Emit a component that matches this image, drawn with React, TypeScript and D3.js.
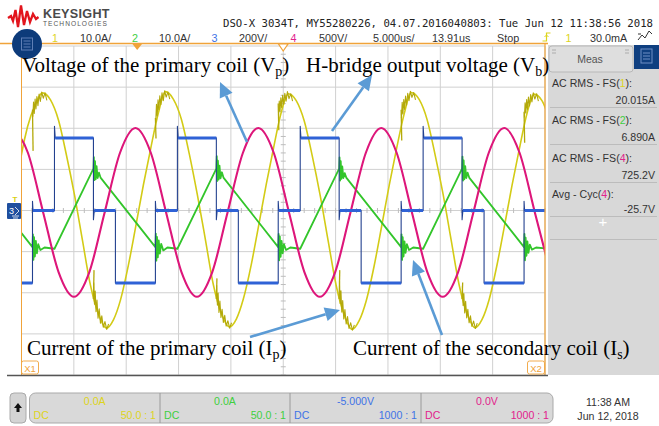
import React from 'react';
import * as d3 from 'd3';

// ---------- data ----------
// time in microseconds (5 us/div, 10 div)
const timeRange: [number, number] = [0, 50];

// Channel 1: current of the primary coil Ip (A), 10 A/div
const ipPoints: [number, number][] = [
  [-0.86, -1.1], [-0.10, 12.3], [0.57, 20.3], [1.34, 25.9], [2.00, 28.6],
  [2.77, 26.9], [3.53, 22.0], [4.29, 13.5], [5.06, 3.8], [5.82, -7.2], [6.58, -18.1], [7.35, -25.2], [8.11, -28.6],
  [8.78, -26.6], [9.45, -21.8], [10.21, -13.3], [10.88, -4.3], [11.64, 6.2], [12.31, 14.7], [13.07, 23.7], [13.74, 28.9],
  [14.50, 27.1], [15.27, 22.2], [16.03, 13.7], [16.79, 3.9], [17.56, -7.0], [18.32, -18.0], [19.08, -25.0], [19.85, -28.3],
  [20.52, -26.4], [21.18, -21.6], [21.95, -13.1], [22.61, -4.2], [23.38, 6.4], [24.05, 14.9], [24.81, 23.9], [25.48, 28.4],
  [26.24, 26.7], [27.00, 21.8], [27.77, 13.3], [28.53, 3.6], [29.29, -7.4], [30.06, -18.3], [30.82, -25.4], [31.58, -28.9],
  [32.25, -26.8], [32.92, -22.0], [33.68, -13.5], [34.35, -4.5], [35.11, 6.0], [35.78, 14.5], [36.55, 23.5], [37.21, 28.7],
  [37.98, 27.0], [38.74, 22.1], [39.50, 13.6], [40.27, 3.9], [41.03, -7.1], [41.79, -18.0], [42.56, -25.1], [43.32, -28.5],
  [43.99, -26.5], [44.66, -21.7], [45.42, -13.2], [46.09, -4.3], [46.85, 6.1], [47.52, 14.6], [48.28, 23.6], [48.95, 28.3],
  [49.71, 26.7], [50.48, 21.9],
];
// switching spikes on Ip: [time, from, to]
const ipSpikes: [number, number, number][] = [
  [1.05, 24.5, 14.5], [12.79, 22.5, 17.5], [24.52, 26.0, 19.5], [36.26, 24.5, 17.0], [48.0, 24.0, 16.5],
  [6.87, -21.5, -14.5], [18.61, -21.5, -16.5], [30.34, -21.5, -14.5], [42.08, -21.5, -17.5],
];
// ringing on Ip after each switching edge
const ipRinging: [number, number][][] = [
  [[1.08, 22.8], [1.15, 26.4], [1.22, 23.6], [1.30, 27.1], [1.38, 24.7], [1.47, 27.7], [1.57, 25.5], [1.68, 28.3], [1.80, 26.5], [1.93, 28.8], [2.08, 27.3], [2.25, 28.6], [2.42, 26.8]],
  [[12.82, 21.5], [12.89, 25.8], [12.96, 23.0], [13.04, 26.9], [13.12, 24.5], [13.21, 27.9], [13.31, 25.7], [13.42, 28.6], [13.54, 26.7], [13.67, 29.1], [13.82, 27.6], [13.99, 28.8], [14.16, 27.1]],
  [[24.55, 23.2], [24.62, 26.6], [24.69, 24.0], [24.77, 27.4], [24.85, 25.0], [24.94, 28.0], [25.04, 25.8], [25.15, 28.5], [25.27, 26.6], [25.40, 28.9], [25.55, 27.2], [25.72, 28.4], [25.89, 26.6]],
  [[36.29, 22.5], [36.36, 26.3], [36.43, 23.5], [36.51, 27.0], [36.59, 24.6], [36.68, 27.8], [36.78, 25.6], [36.89, 28.5], [37.01, 26.7], [37.14, 29.0], [37.29, 27.5], [37.46, 28.7], [37.63, 26.9]],
  [[48.03, 22.6], [48.10, 26.2], [48.17, 23.7], [48.25, 27.0], [48.33, 24.6], [48.42, 27.6], [48.52, 25.4], [48.63, 28.2], [48.75, 26.4], [48.88, 28.6], [49.03, 27.1], [49.20, 28.4], [49.37, 26.6]],
  [[6.90, -17.5], [6.97, -22.8], [7.04, -19.6], [7.12, -24.6], [7.21, -21.8], [7.31, -26.2], [7.42, -23.9], [7.54, -27.4], [7.67, -25.6], [7.81, -28.4], [7.97, -27.0], [8.14, -28.9], [8.32, -27.6]],
  [[18.64, -18.2], [18.71, -23.0], [18.78, -20.1], [18.86, -24.8], [18.95, -22.0], [19.05, -26.0], [19.16, -24.0], [19.28, -27.2], [19.41, -25.5], [19.55, -28.1], [19.71, -26.8], [19.88, -28.6], [20.06, -27.3]],
  [[30.37, -17.2], [30.44, -22.6], [30.51, -19.5], [30.59, -24.7], [30.68, -21.9], [30.78, -26.4], [30.89, -24.1], [31.01, -27.6], [31.14, -25.8], [31.28, -28.7], [31.44, -27.3], [31.61, -29.1], [31.79, -27.8]],
  [[42.11, -18.4], [42.18, -23.1], [42.25, -20.2], [42.33, -24.9], [42.42, -22.1], [42.52, -26.1], [42.63, -24.0], [42.75, -27.3], [42.88, -25.6], [43.02, -28.2], [43.18, -26.9], [43.35, -28.7], [43.53, -27.4]],
];

// Channel 2: current of the secondary coil Is (A), 10 A/div
const isPoints: [number, number][] = [
  [0, -5.5], [1.05, -8.9], [1.09, -5.8], [1.14, -12.0], [1.20, -6.5], [1.28, -11.2], [1.37, -7.4], [1.47, -10.4], [1.60, -8.2], [1.80, -9.6], [2.20, -9.0], [3.15, -9.3],
  [6.87, 10.2], [6.91, 13.0], [6.96, 7.4], [7.02, 12.0], [7.09, 7.6], [7.17, 10.8], [7.27, 7.9], [7.40, 9.2], [7.55, 8.0],
  [12.79, -8.9], [12.83, -5.6], [12.88, -12.2], [12.94, -6.4], [13.02, -11.4], [13.11, -7.3], [13.21, -10.5], [13.34, -8.1], [13.54, -9.7], [13.94, -9.0], [14.89, -9.3],
  [18.61, 10.2], [18.65, 13.2], [18.70, 7.2], [18.76, 12.1], [18.83, 7.5], [18.91, 10.9], [19.01, 7.8], [19.14, 9.3], [19.29, 8.0],
  [24.52, -8.9], [24.56, -5.7], [24.61, -12.1], [24.67, -6.3], [24.75, -11.3], [24.84, -7.4], [24.94, -10.4], [25.07, -8.2], [25.27, -9.6], [25.67, -9.0], [26.62, -9.3],
  [30.34, 10.2], [30.38, 12.9], [30.43, 7.3], [30.49, 12.0], [30.56, 7.7], [30.64, 10.7], [30.74, 7.9], [30.87, 9.1], [31.02, 8.0],
  [36.26, -8.9], [36.30, -5.8], [36.35, -12.0], [36.41, -6.5], [36.49, -11.2], [36.58, -7.5], [36.68, -10.3], [36.81, -8.2], [37.01, -9.6], [37.41, -9.0], [38.36, -9.3],
  [42.08, 10.2], [42.12, 13.1], [42.17, 7.3], [42.23, 12.2], [42.30, 7.6], [42.38, 10.8], [42.48, 7.9], [42.61, 9.2], [42.76, 8.0],
  [48.00, -8.9], [48.04, -5.7], [48.09, -12.1], [48.15, -6.6], [48.23, -11.0], [48.32, -7.5], [48.42, -10.3], [48.55, -8.3], [48.75, -9.5], [49.15, -9.0], [50.0, -9.2],
];

// Channel 3: H-bridge output voltage Vb (V), 200 V/div
const vbPoints: [number, number][] = [
  [0, -353], [1.05, -353], [1.05, 45], [1.10, 0], [3.15, 0], [3.15, 410], [3.22, 353], [6.87, 353], [6.87, -45], [6.95, 0], [8.97, 0], [8.97, -353],
  [12.79, -353], [12.79, 45], [12.84, 0], [14.89, 0], [14.89, 410], [14.96, 353], [18.61, 353], [18.61, -45], [18.69, 0], [20.71, 0], [20.71, -353],
  [24.52, -353], [24.52, 45], [24.57, 0], [26.62, 0], [26.62, 410], [26.69, 353], [30.34, 353], [30.34, -45], [30.42, 0], [32.44, 0], [32.44, -353],
  [36.26, -353], [36.26, 45], [36.31, 0], [38.36, 0], [38.36, 410], [38.43, 353], [42.08, 353], [42.08, -45], [42.16, 0], [44.18, 0], [44.18, -353],
  [48.00, -353], [48.00, 45], [48.05, 0], [50.0, 0],
];

// Channel 4: voltage of the primary coil Vp (V), 500 V/div
const vpPoints: [number, number][] = [
  [-0.86, 1003], [0.61, 702], [2.07, -23], [3.54, -748], [5.01, -1049], [6.48, -748], [7.94, -23], [9.41, 702],
  [10.88, 1003], [12.35, 702], [13.81, -23], [15.28, -748], [16.75, -1049], [18.22, -748], [19.68, -23], [21.15, 702],
  [22.62, 1003], [24.09, 702], [25.55, -23], [27.02, -748], [28.49, -1049], [29.96, -748], [31.42, -23], [32.89, 702],
  [34.36, 1003], [35.83, 702], [37.29, -23], [38.76, -748], [40.23, -1049], [41.70, -748], [43.16, -23], [44.63, 702],
  [46.10, 1003], [47.57, 702], [49.03, -23], [50.50, -748],
];

const channelNumbers = ['1', '2', '3', '4'];
const channelScales = ['10.0A/', '10.0A/', '200V/', '500V/'];
const channelOffsets = ['0.0A', '0.0A', '-5.000V', '0.0V'];
const channelProbes = ['50.0 : 1', '50.0 : 1', '1000 : 1', '1000 : 1'];
const channelColors = ['#ddd41c', '#3fcf3f', '#3f73e6', '#e2228c'];

const measLabels = ['AC RMS - FS(', 'AC RMS - FS(', 'AC RMS - FS(', 'Avg - Cyc('];
const measChannels = ['1', '2', '4', '4'];
const measValues = ['20.015A', '6.890A', '725.2V', '-25.7V'];

const titleText = 'DSO-X 3034T, MY55280226, 04.07.2016040803: Tue Jun 12 11:38:56 2018';

// ---------- colours ----------
const C_IP = '#d3cb16';
const C_IP_NOISE = '#b3a90a';
const C_IS = '#33c52b';
const C_VB = '#2f62d6';
const C_VB_EDGE = '#23418f';
const C_VP = '#dd167a';
const GRID = '#d0d0d0';
const ORANGE = '#f0a33a';
const ARROW = '#5b9bd5';

const PL = 21.5, PR = 545, PT = 46, PB = 375;
const SANS = '"Liberation Sans", Arial, sans-serif';
const SERIF = '"Liberation Serif", "Times New Roman", serif';

function Arrow({ x1, y1, x2, y2 }: { x1: number; y1: number; x2: number; y2: number }) {
  const ang = Math.atan2(y2 - y1, x2 - x1);
  const len = 15, half = 7;
  const bx = x2 - len * Math.cos(ang), by = y2 - len * Math.sin(ang);
  const p1 = [bx + half * Math.sin(ang), by - half * Math.cos(ang)];
  const p2 = [bx - half * Math.sin(ang), by + half * Math.cos(ang)];
  return (
    <g>
      <line x1={x1} y1={y1} x2={bx} y2={by} stroke={ARROW} strokeWidth={2.6} />
      <polygon points={`${x2},${y2} ${p1[0]},${p1[1]} ${p2[0]},${p2[1]}`} fill={ARROW} />
    </g>
  );
}

export default function App() {
  const x = d3.scaleLinear().domain(timeRange).range([PL, PR]);
  const yI = d3.scaleLinear().domain([-40, 40]).range([PB, PT]);
  const yVb = d3.scaleLinear().domain([-800, 800]).range([PB, PT]);
  const yVp = d3.scaleLinear().domain([-2000, 2000]).range([PB, PT]);

  const smooth = (ys: d3.ScaleLinear<number, number>) =>
    d3.line<[number, number]>().x((d) => x(d[0])).y((d) => ys(d[1])).curve(d3.curveMonotoneX);
  const straight = (ys: d3.ScaleLinear<number, number>) =>
    d3.line<[number, number]>().x((d) => x(d[0])).y((d) => ys(d[1]));

  const vbLevels: [number, number, number][] = [];
  for (let i = 0; i < vbPoints.length - 1; i++) {
    const [t1, v1] = vbPoints[i];
    const [t2, v2] = vbPoints[i + 1];
    if (v1 === v2 && t2 - t1 > 0.2) vbLevels.push([t1, t2, v1]);
  }

  const vGrid = d3.range(0, 51, 5);
  const hGrid = d3.range(-40, 41, 10);
  const hMinor = d3.range(0, 50.01, 1);
  const vMinor = d3.range(-40, 40.01, 2);
  const cx = x(25), cy = yI(0);

  const boxEdges = [29.5, 160, 290, 421, 553];

  return (
    <svg width={659} height={426} style={{ position: 'absolute', left: 0, top: 0, background: '#fff' }}
      fontFamily={SANS}>
      <defs>
        <clipPath id="plotClip">
          <rect x={PL} y={44} width={PR - PL} height={PB - 44} />
        </clipPath>
      </defs>
      <rect x={0} y={0} width={659} height={426} fill="#fff" />

      {/* grid */}
      <g>
        {vGrid.map((t) => (
          <line key={'v' + t} x1={x(t)} x2={x(t)} y1={PT} y2={PB} stroke={GRID} strokeWidth={1} />
        ))}
        {hGrid.map((v) => (
          <line key={'h' + v} x1={PL} x2={PR} y1={yI(v)} y2={yI(v)} stroke={GRID} strokeWidth={1} />
        ))}
        {hMinor.map((t) => (
          <line key={'hm' + t} x1={x(t)} x2={x(t)} y1={cy - 2.5} y2={cy + 2.5} stroke="#bdbdbd" strokeWidth={1} />
        ))}
        {vMinor.map((v) => (
          <line key={'vm' + v} x1={cx - 2.5} x2={cx + 2.5} y1={yI(v)} y2={yI(v)} stroke="#bdbdbd" strokeWidth={1} />
        ))}
      </g>

      {/* traces */}
      <g clipPath="url(#plotClip)" fill="none" strokeLinejoin="round">
        <path d={smooth(yI)(ipPoints) || ''} stroke={C_IP} strokeWidth={1.6} />
        {ipRinging.map((seg, i) => (
          <path key={'rg' + i} d={straight(yI)(seg) || ''} stroke={C_IP_NOISE} strokeWidth={1.1} />
        ))}
        {ipSpikes.map(([t, a, b], i) => (
          <line key={'sp' + i} x1={x(t)} x2={x(t) + 0.6} y1={yI(a)} y2={yI(b)} stroke={C_IP_NOISE} strokeWidth={1.3} />
        ))}
        <path d={straight(yI)(isPoints) || ''} stroke={C_IS} strokeWidth={1.8} />
        <path d={smooth(yVp)(vpPoints) || ''} stroke={C_VP} strokeWidth={2.1} />
        <path d={straight(yVb)(vbPoints) || ''} stroke={C_VB_EDGE} strokeWidth={1.1} />
        {vbLevels.map(([t1, t2, v], i) => (
          <line key={'lv' + i} x1={x(t1)} x2={x(t2)} y1={yVb(v)} y2={yVb(v)} stroke={C_VB} strokeWidth={3} />
        ))}
      </g>

      {/* plot borders / cursors */}
      <line x1={0} x2={548} y1={43.5} y2={43.5} stroke={ORANGE} strokeWidth={1.5} />
      <line x1={PL} x2={PL} y1={44} y2={PB} stroke={ORANGE} strokeWidth={1} />
      <line x1={PR} x2={PR} y1={44} y2={PB} stroke={ORANGE} strokeWidth={1.2} />
      <line x1={7} x2={548} y1={375.5} y2={375.5} stroke="#555" strokeWidth={1.5} />
      <polygon points="132.5,44 142,44 137.2,50" fill={ORANGE} />
      <polygon points="278.5,44 288,44 283.2,51" fill="#fff" stroke={ORANGE} strokeWidth={1.2} />
      <g>
        <rect x={21.5} y={361} width={17} height={13} rx={2} fill="#fff" stroke={ORANGE} strokeWidth={0.9} />
        <text x={30} y={371.5} fontSize={9.5} fill={ORANGE} textAnchor="middle">X1</text>
        <rect x={527.5} y={361} width={17} height={13} rx={2} fill="#fff" stroke={ORANGE} strokeWidth={0.9} />
        <text x={536} y={371.5} fontSize={9.5} fill={ORANGE} textAnchor="middle">X2</text>
      </g>
      {/* ground marker ch3 and trigger level */}
      <text x={15} y={202} fontSize={8} fill="#d8cf10" textAnchor="middle" fontWeight="bold">T</text>
      <rect x={7} y={203} width={14} height={16} fill="#1f4f9f" rx={1} />
      <text x={11.5} y={213.5} fontSize={9} fill="#fff" textAnchor="middle">3</text>
      <path d="M15,207 L19,211 L15,215 M12,216 L19,216 M13,218 L18,218" stroke="#fff" strokeWidth={0.8} fill="none" />

      {/* header */}
      <path d="M8,18 L11,16 L13,21 L15.5,10 L18,27 L21,5.5 L24,25 L27,11 L30,22 L33,14 L36,19 L38.5,17"
        fill="none" stroke="#e2151d" strokeWidth={2.3} strokeLinejoin="miter" />
      <text x={43} y={18} fontSize={12.6} fontWeight="bold" fill="#4a4a4a" letterSpacing={0.3}>KEYSIGHT</text>
      <text x={43} y={26} fontSize={6.6} fill="#555" letterSpacing={1.05}>TECHNOLOGIES</text>
      <text x={223} y={26.5} fontSize={10.6} fontFamily='"DejaVu Sans Mono", monospace' fill="#222"
        textLength={430} lengthAdjust="spacingAndGlyphs">{titleText}</text>

      <g fontSize={10.8} fill="#333">
        <text x={55} y={42} textAnchor="middle" fill={channelColors[0]}>{channelNumbers[0]}</text>
        <text x={80} y={42}>{channelScales[0]}</text>
        <text x={135} y={42} textAnchor="middle" fill={channelColors[1]}>{channelNumbers[1]}</text>
        <text x={159} y={42}>{channelScales[1]}</text>
        <text x={214.5} y={42} textAnchor="middle" fill={channelColors[2]}>{channelNumbers[2]}</text>
        <text x={239} y={42}>{channelScales[2]}</text>
        <text x={293.5} y={42} textAnchor="middle" fill={channelColors[3]}>{channelNumbers[3]}</text>
        <text x={319} y={42}>{channelScales[3]}</text>
        <text x={373} y={42}>5.000us/</text>
        <text x={432} y={42}>13.91us</text>
        <text x={497} y={42}>Stop</text>
        <path d="M542.5,41 L546.5,41 L546.5,33 L550.5,33" stroke={channelColors[0]} strokeWidth={1.2} fill="none" />
        <path d="M544.5,37 L546.5,35 L548.5,37" stroke={channelColors[0]} strokeWidth={1} fill="none" />
        <text x={568.5} y={42} textAnchor="middle" fill={channelColors[0]}>1</text>
        <text x={590} y={42}>30.0mA</text>
        <path d="M638,40 L642,35 L645,38 L649,31 L652,34 M638,34 L641,34" stroke="#333" strokeWidth={1} fill="none" />
      </g>

      {/* menu button */}
      <circle cx={27} cy={44} r={15} fill="#0d3b7a" />
      <rect x={21.5} y={38} width={11} height={12} fill="none" stroke="#5f7fb5" strokeWidth={1} />
      <path d="M23.5,41 L30.5,41 M23.5,44 L30.5,44 M23.5,47 L30.5,47" stroke="#5f7fb5" strokeWidth={1} />

      {/* measurement panel */}
      <rect x={548} y={45} width={111} height={330} fill="#d8d8d8" />
      <rect x={549} y={46} width={84} height={26} rx={3} fill="#dedede" stroke="#b8b8b8" strokeWidth={1} />
      <g fill="#9a9a9a">
        <circle cx={553} cy={50} r={0.7} /><circle cx={555} cy={50} r={0.7} />
        <circle cx={553} cy={53} r={0.7} /><circle cx={555} cy={53} r={0.7} />
        <circle cx={626} cy={50} r={0.7} /><circle cx={628} cy={50} r={0.7} />
        <circle cx={626} cy={53} r={0.7} /><circle cx={628} cy={53} r={0.7} />
      </g>
      <text x={590} y={63} fontSize={10.5} fill="#555" textAnchor="middle">Meas</text>
      <rect x={634} y={45} width={25} height={24} fill="#0f3f80" />
      <rect x={641} y={49} width={11} height={14} fill="none" stroke="#6f8fc5" strokeWidth={1} />
      <path d="M643,53 L650,53 M643,56 L650,56 M643,59 L650,59" stroke="#6f8fc5" strokeWidth={1} />
      <g fontSize={10.6} fill="#333">
        {measLabels.map((lab, i) => {
          const ly = [87, 124, 162, 198][i];
          const vy = [104, 141, 179, 213][i];
          const col = channelColors[parseInt(measChannels[i], 10) - 1];
          return (
            <g key={'m' + i}>
              <text x={552} y={ly}>{lab}<tspan fill={col}>{measChannels[i]}</tspan>):</text>
              <text x={655} y={vy} textAnchor="end">{measValues[i]}</text>
            </g>
          );
        })}
        {[107.5, 144.5, 182.5, 216.5, 239.5].map((yy) => (
          <line key={'sep' + yy} x1={550} x2={657} y1={yy} y2={yy} stroke="#bcbcbc" strokeWidth={1} />
        ))}
        <text x={603} y={227} fontSize={15} fill="#fff" textAnchor="middle">+</text>
      </g>

      {/* annotations */}
      <g fontFamily={SERIF} fontSize={21} fill="#000">
        <text x={22} y={72}>Voltage of the primary coil (V<tspan fontSize={14} dy={4}>p</tspan><tspan dy={-4}>)</tspan></text>
        <text x={306} y={72}>H-bridge output voltage (V<tspan fontSize={14} dy={4}>b</tspan><tspan dy={-4}>)</tspan></text>
        <text x={27} y={355}>Current of the primary coil (I<tspan fontSize={14} dy={4}>p</tspan><tspan dy={-4}>)</tspan></text>
        <text x={353} y={355}>Current of the secondary coil (I<tspan fontSize={14} dy={4}>s</tspan><tspan dy={-4}>)</tspan></text>
      </g>
      <Arrow x1={247} y1={142} x2={220} y2={82} />
      <Arrow x1={332} y1={131} x2={372} y2={75} />
      <Arrow x1={250} y1={337} x2={340} y2={310} />
      <Arrow x1={442} y1={335} x2={413} y2={260} />

      {/* bottom bar */}
      <rect x={10} y={393} width={16} height={30} rx={4} fill="#d4d4d4" stroke="#aaa" strokeWidth={1} />
      <path d="M18,403 L22,408 L19.5,408 L19.5,412 L16.5,412 L16.5,408 L14,408 Z" fill="#111" />
      <rect x={boxEdges[0]} y={393} width={boxEdges[4] - boxEdges[0]} height={30} rx={6} fill="#d9d9d9" stroke="#a9a9a9" strokeWidth={1} />
      {boxEdges.slice(1, 4).map((bx) => (
        <line key={'be' + bx} x1={bx} x2={bx} y1={393} y2={423} stroke="#9a9a9a" strokeWidth={1} />
      ))}
      <g fontSize={10.6}>
        {channelOffsets.map((off, i) => {
          const l = boxEdges[i], r = boxEdges[i + 1];
          return (
            <g key={'cb' + i} fill={channelColors[i]}>
              <text x={(l + r) / 2} y={405} textAnchor="middle">{off}</text>
              <text x={l + 4} y={419}>DC</text>
              <text x={r - 4} y={419} textAnchor="end">{channelProbes[i]}</text>
            </g>
          );
        })}
      </g>
      <text x={608} y={406} fontSize={10.6} fill="#333" textAnchor="middle">11:38 AM</text>
      <text x={608} y={420} fontSize={10.6} fill="#333" textAnchor="middle">Jun 12, 2018</text>
    </svg>
  );
}
